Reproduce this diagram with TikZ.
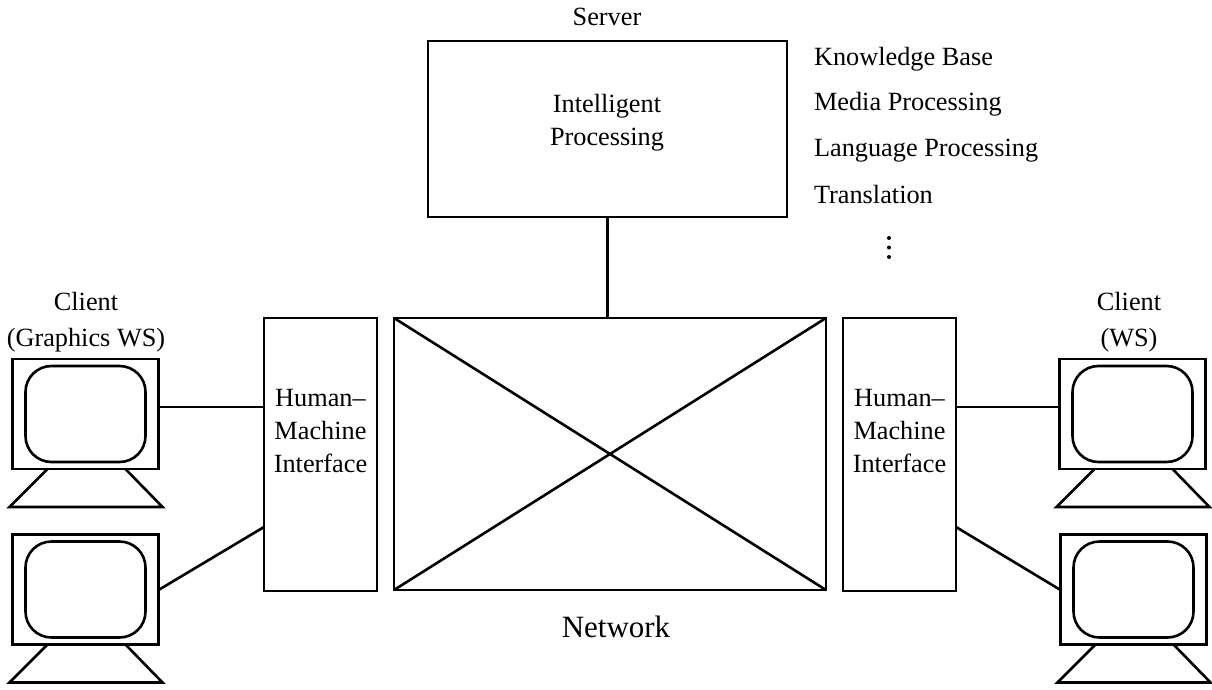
\documentclass[tikz,border=0pt]{standalone}
\usepackage{fontspec}
\setmainfont{Liberation Serif}
\begin{document}
\begin{tikzpicture}[x=1pt, y=-1pt, line width=2.6pt, line join=miter,
  every node/.style={inner sep=0pt, outer sep=0pt, font=\fontsize{26.3}{33}\selectfont, align=center},
  boxnode/.style={draw, minimum width=#1},
  framenode/.style={draw, minimum width=146, minimum height=110},
  screennode/.style={draw, rounded corners=26pt, minimum width=120, minimum height=96},
  labelnode/.style={anchor=base west}]
  \useasboundingbox (0,0) rectangle (1212,690);
  % server and network
  \node[boxnode=359, minimum height=176] (server) at (607.5,129) {};
  \node[boxnode=432, minimum height=272] (net) at (610,454) {};
  \draw (net.north west) -- (net.south east);
  \draw (net.north east) -- (net.south west);
  \draw (server.south) -- (server.south |- net.north);
  % interface boxes
  \node[boxnode=113, minimum height=273] (hmil) at (320.5,454.5) {};
  \node[boxnode=113, minimum height=273] (hmir) at (899.5,454.5) {};
  \node[yshift=23] (hmiltext) at (hmil) {Human--\\Machine\\Interface};
  \node[yshift=23] (hmirtext) at (hmir) {Human--\\Machine\\Interface};
  % monitors
  \foreach \n/\x/\y in {ma/85.5/414, mb/85.5/589.5, mc/1132.5/414, md/1133.5/589.5} {
    \node[framenode] (\n) at (\x,\y) {};
    \node[screennode] (s\n) at (\x,\y) {};
    \draw ([xshift=-38]\n.south) -- ++(-38,38) -- ++(153,0) -- ([xshift=40]\n.south);
  }
  % connectors
  \draw ([yshift=7]ma.east) -- ([yshift=47.5]hmil.west);
  \draw ([yshift=-0.5]mb.east) -- ([yshift=-72.5]hmil.west);
  \draw ([yshift=47.5]hmir.east) -- ([yshift=7]mc.west);
  \draw ([yshift=-72.5]hmir.east) -- ([yshift=-0.5]md.west);
  % labels
  \node (server label) at (607,17) {Server};
  \node (intel) at (607,122.5) {Intelligent\\Processing};
  \node[labelnode] (kb) at (814,66) {Knowledge Base};
  \node[labelnode] (mp) at (814,111) {Media Processing};
  \node[labelnode] (lp) at (814,157) {Language Processing};
  \node[labelnode] (tr) at (814,203) {Translation};
  \foreach \d/\y in {a/238, b/247.5, c/257} \fill (889,\y) circle (2pt) node (dot\d) {};
  \node (clienta) at (86,322) {Client\\[3pt](Graphics WS)};
  \node (clientb) at (1129,322) {Client\\[3pt](WS)};
  \node[font=\fontsize{31}{36}\selectfont] (network) at (616,627) {Network};
\end{tikzpicture}
\end{document}
